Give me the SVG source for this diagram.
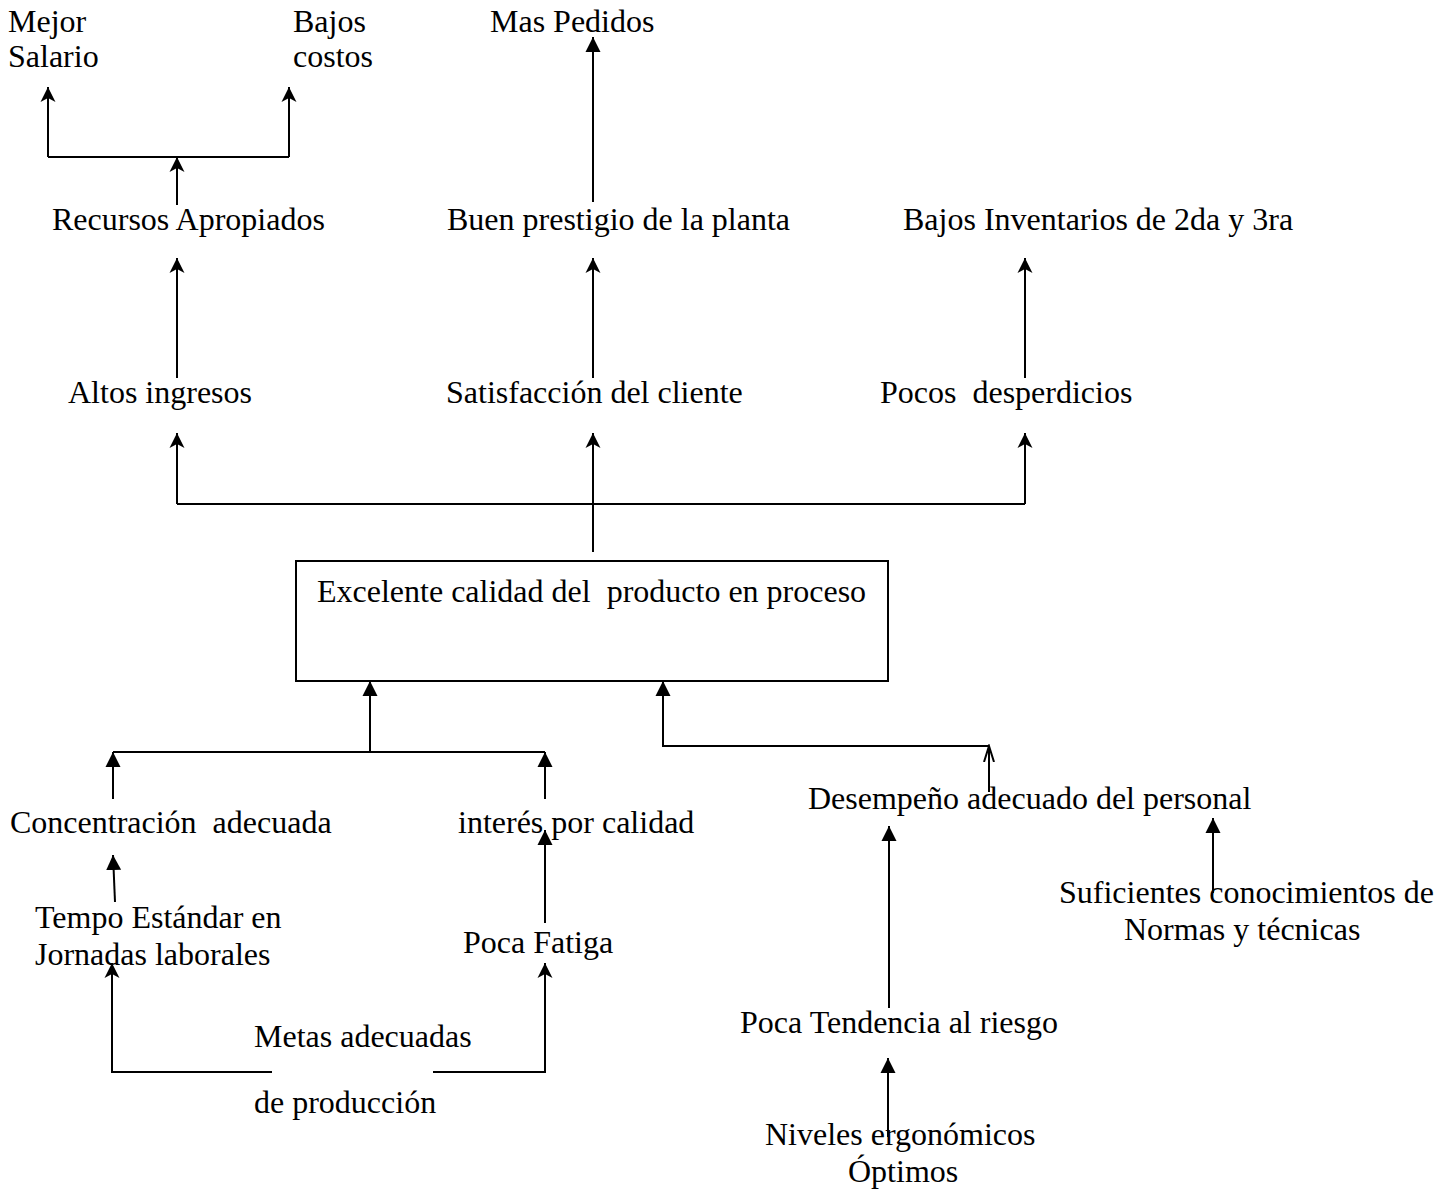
<svg xmlns="http://www.w3.org/2000/svg" width="1452" height="1190" viewBox="0 0 1452 1190">
  <style>
    text { font-family: "Liberation Serif", "Times New Roman", serif; font-size: 32px; fill: #000; }
    .ln { fill: none; stroke: #000; stroke-width: 2; }
    .tri { marker-end: url(#tri); }
    .vee { marker-end: url(#vee); }
    .thin { marker-end: url(#thin); }
  </style>
  <defs>
    <marker id="tri" markerUnits="userSpaceOnUse" markerWidth="16" markerHeight="16" viewBox="0 -8 16 16" refX="15" refY="0" orient="auto">
      <path d="M0,-7.5 L15,0 L0,7.5 z" fill="#000"/>
    </marker>
    <marker id="vee" markerUnits="userSpaceOnUse" markerWidth="16" markerHeight="16" viewBox="0 -8 16 16" refX="15" refY="0" orient="auto">
      <path d="M0,-7.5 L15,0 L0,7.5 L4,0 z" fill="#000"/>
    </marker>
    <marker id="thin" markerUnits="userSpaceOnUse" markerWidth="18" markerHeight="12" viewBox="0 -6 18 12" refX="16" refY="0" orient="auto">
      <path d="M0,-5 L16,0 L0,5" fill="none" stroke="#000" stroke-width="2"/>
    </marker>
    <clipPath id="cut-bottom">
      <rect x="0" y="0" width="1452" height="1124"/>
    </clipPath>
  </defs>

  <rect width="1452" height="1190" fill="#fff"/>

  <!-- effects, top level -->
  <g id="mejor-salario"><text x="8" y="32">Mejor</text><text x="8" y="67">Salario</text></g>
  <g id="bajos-costos"><text x="293" y="32">Bajos</text><text x="293" y="67">costos</text></g>
  <g id="mas-pedidos"><text x="490" y="32">Mas Pedidos</text></g>

  <!-- second level -->
  <g id="recursos-apropiados"><text x="52" y="230">Recursos Apropiados</text></g>
  <g id="buen-prestigio"><text x="447" y="230">Buen prestigio de la planta</text></g>
  <g id="bajos-inventarios"><text x="903" y="230">Bajos Inventarios de 2da y 3ra</text></g>

  <!-- third level -->
  <g id="altos-ingresos"><text x="68" y="403">Altos ingresos</text></g>
  <g id="satisfaccion-cliente"><text x="446" y="403">Satisfacción del cliente</text></g>
  <g id="pocos-desperdicios"><text x="880" y="403" xml:space="preserve">Pocos  desperdicios</text></g>

  <!-- central objective -->
  <g id="excelente-calidad">
    <rect x="296" y="561" width="592" height="120" fill="none" stroke="#000" stroke-width="2"/>
    <text x="317" y="602" xml:space="preserve">Excelente calidad del  producto en proceso</text>
  </g>

  <!-- means -->
  <g id="concentracion"><text x="10" y="833" xml:space="preserve">Concentración  adecuada</text></g>
  <g id="interes-calidad"><text x="458" y="833">interés por calidad</text></g>
  <g id="desempeno"><text x="808" y="809">Desempeño adecuado del personal</text></g>
  <g id="tempo-estandar"><text x="35" y="928">Tempo Estándar en</text><text x="35" y="965">Jornadas laborales</text></g>
  <g id="poca-fatiga"><text x="463" y="953">Poca Fatiga</text></g>
  <g id="suficientes-conocimientos"><text x="1059" y="903">Suficientes conocimientos de</text><text x="1124" y="940">Normas y técnicas</text></g>
  <g id="metas-adecuadas"><text x="254" y="1047">Metas adecuadas</text><text x="254" y="1113" clip-path="url(#cut-bottom)">de producción</text></g>
  <g id="poca-tendencia"><text x="740" y="1033">Poca Tendencia al riesgo</text></g>
  <g id="niveles-ergonomicos"><text x="765" y="1145">Niveles ergonómicos</text><text x="848" y="1182">Óptimos</text></g>

  <g id="connectors">
    <!-- Recursos Apropiados splits into salary and costs -->
    <path class="ln vee" d="M177,205 V157"/>
    <path class="ln" d="M48,157 H289"/>
    <path class="ln vee" d="M48,157 V87"/>
    <path class="ln vee" d="M289,157 V87"/>
    <!-- prestige to orders -->
    <path class="ln tri" d="M593,202 V37"/>
    <!-- third to second level -->
    <path class="ln vee" d="M177,378 V258"/>
    <path class="ln vee" d="M593,378 V258"/>
    <path class="ln vee" d="M1025,378 V258"/>
    <!-- central objective fans out -->
    <path class="ln vee" d="M593,552 V433"/>
    <path class="ln" d="M177,504 H1025"/>
    <path class="ln vee" d="M177,504 V433"/>
    <path class="ln vee" d="M1025,504 V433"/>
    <!-- means into the central objective -->
    <path class="ln tri" d="M370,752 V681"/>
    <path class="ln" d="M113,752 H545"/>
    <path class="ln tri" d="M113,799 V752"/>
    <path class="ln tri" d="M545,799 V752"/>
    <path class="ln thin" d="M989,792 V746"/>
    <path class="ln tri" d="M989,746 H663 V681"/>
    <!-- lower means -->
    <path class="ln tri" d="M115,902 L113,855"/>
    <path class="ln tri" d="M545,923 V830"/>
    <path class="ln tri" d="M889,1008 V826"/>
    <path class="ln tri" d="M1213,893 V818"/>
    <path class="ln vee" d="M272,1072 H112 V963"/>
    <path class="ln vee" d="M433,1072 H545 V963"/>
    <path class="ln tri" d="M888,1137 V1058"/>
  </g>
</svg>
